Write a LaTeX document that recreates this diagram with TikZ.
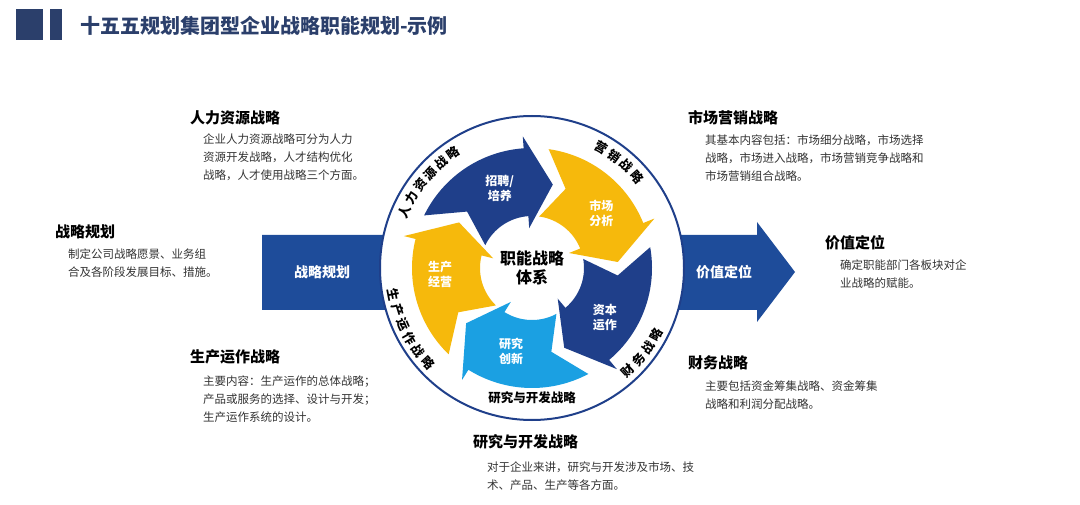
\documentclass[tikz,border=0pt]{standalone}
\usepackage{fontspec}
\setmainfont{Noto Sans CJK SC}
\definecolor{navy}{HTML}{1F3F8A}
\definecolor{band}{HTML}{1E4C9A}
\definecolor{gold}{HTML}{F6B90C}
\definecolor{sky}{HTML}{1BA0E2}
\definecolor{titlec}{HTML}{2B3F6B}
\definecolor{bodyc}{HTML}{333333}
\begin{document}
\begin{tikzpicture}[x=1pt,y=1pt,
  head/.style={anchor=west,font=\fontsize{15}{18}\selectfont\bfseries,text=black,inner sep=0},
  body/.style={anchor=north west,align=left,font=\fontsize{11.5}{18}\selectfont,text=bodyc,inner sep=0},
  lab/.style={font=\fontsize{12}{15}\selectfont\bfseries,text=white,align=center},
  ring/.style={font=\fontsize{12.5}{12.5}\selectfont\bfseries,inner sep=0}]
\useasboundingbox (0,0) rectangle (1080,-505);
% title
\fill[titlec] (16,-9) rectangle (43,-40);
\fill[titlec] (50,-9) rectangle (62,-40);
\node[anchor=west,inner sep=0,text=titlec,font=\fontsize{20}{22}\selectfont\bfseries] (title) at (80,-26) {十五五规划集团型企业战略职能规划-示例};
% band arrow
\fill[band] (262,-235) -- (757,-235) -- (757,-222) -- (795,-272) -- (757,-322) -- (757,-310) -- (262,-310) -- cycle;
\node[font=\fontsize{14}{16}\selectfont\bfseries,text=white] (l1) at (322,-272) {战略规划};
\node[font=\fontsize{14}{16}\selectfont\bfseries,text=white] (r1) at (724,-272) {价值定位};
% circle
\begin{scope}[shift={(532,-268)}]
\draw[line width=2pt,draw=navy,fill=white] (0,0) circle (152);
\foreach \c/\col in {114/navy,42/gold,-30/navy,-102/sky,-174/gold}{
  \pgfmathsetmacro\aa{\c+40}
  \pgfmathsetmacro\ab{\c-20}
  \pgfmathsetmacro\at{\c-38}
  \pgfmathsetmacro\an{\c+25}
  \fill[\col] (\aa:120) arc[start angle=\aa,end angle=\ab,radius=120] -- (\ab:132) -- (\at:86) -- (\ab:40) -- (\ab:52) arc[start angle=\ab,end angle=\aa,radius=52] -- (\an:86) -- cycle;
}
\node[lab] (c1) at (112:86) {招聘/\\培养};
\node[lab] (c2) at (38:88) {市场\\分析};
\node[lab] (c3) at (-34:88) {资本\\运作};
\node[lab] (c4) at (-104:86) {研究\\创新};
\node[lab] (c5) at (184:92) {生产\\经营};
\node[font=\fontsize{16}{19}\selectfont\bfseries,align=center] (core) at (0,0) {职能战略\\体系};
\foreach \ch [count=\i from 0] in {人,力,资,源,战,略}
  {\pgfmathsetmacro\a{156-6.3*\i}\node[ring,rotate=\a-90] at (\a:139) {\ch};}
\foreach \ch [count=\i from 0] in {营,销,战,略}
  {\pgfmathsetmacro\a{60-6.3*\i}\node[ring,rotate=\a-90] at (\a:139) {\ch};}
\foreach \ch [count=\i from 0] in {财,务,战,略}
  {\pgfmathsetmacro\a{-47+6.3*\i}\node[ring,rotate=\a+90] at (\a:141) {\ch};}
\foreach \ch [count=\i from 0] in {生,产,运,作,战,略}
  {\pgfmathsetmacro\a{191+6.3*\i}\node[ring,rotate=\a+90] at (\a:141) {\ch};}
\node[ring] (rd) at (0,-130) {研究与开发战略};
\end{scope}
% text blocks
\node[head] (h1) at (190,-118) {人力资源战略};
\node[body] (b1) at (203,-134) {企业人力资源战略可分为人力\\资源开发战略，人才结构优化\\战略，人才使用战略三个方面。};
\node[head] (h2) at (55,-232) {战略规划};
\node[body] (b2) at (68,-249) {制定公司战略愿景、业务组\\合及各阶段发展目标、措施。};
\node[head] (h3) at (190,-357) {生产运作战略};
\node[body] (b3) at (203,-376) {主要内容：生产运作的总体战略；\\产品或服务的选择、设计与开发；\\生产运作系统的设计。};
\node[head] (h4) at (473,-442) {研究与开发战略};
\node[body] (b4) at (487,-462) {对于企业来讲，研究与开发涉及市场、技\\术、产品、生产等各方面。};
\node[head] (h5) at (688,-118) {市场营销战略};
\node[body] (b5) at (705,-135) {其基本内容包括：市场细分战略，市场选择\\战略，市场进入战略，市场营销竞争战略和\\市场营销组合战略。};
\node[head] (h6) at (825,-243) {价值定位};
\node[body] (b6) at (840,-260) {确定职能部门各板块对企\\业战略的赋能。};
\node[head] (h7) at (688,-363) {财务战略};
\node[body] (b7) at (705,-381) {主要包括资金筹集战略、资金筹集\\战略和利润分配战略。};
\end{tikzpicture}
\end{document}
